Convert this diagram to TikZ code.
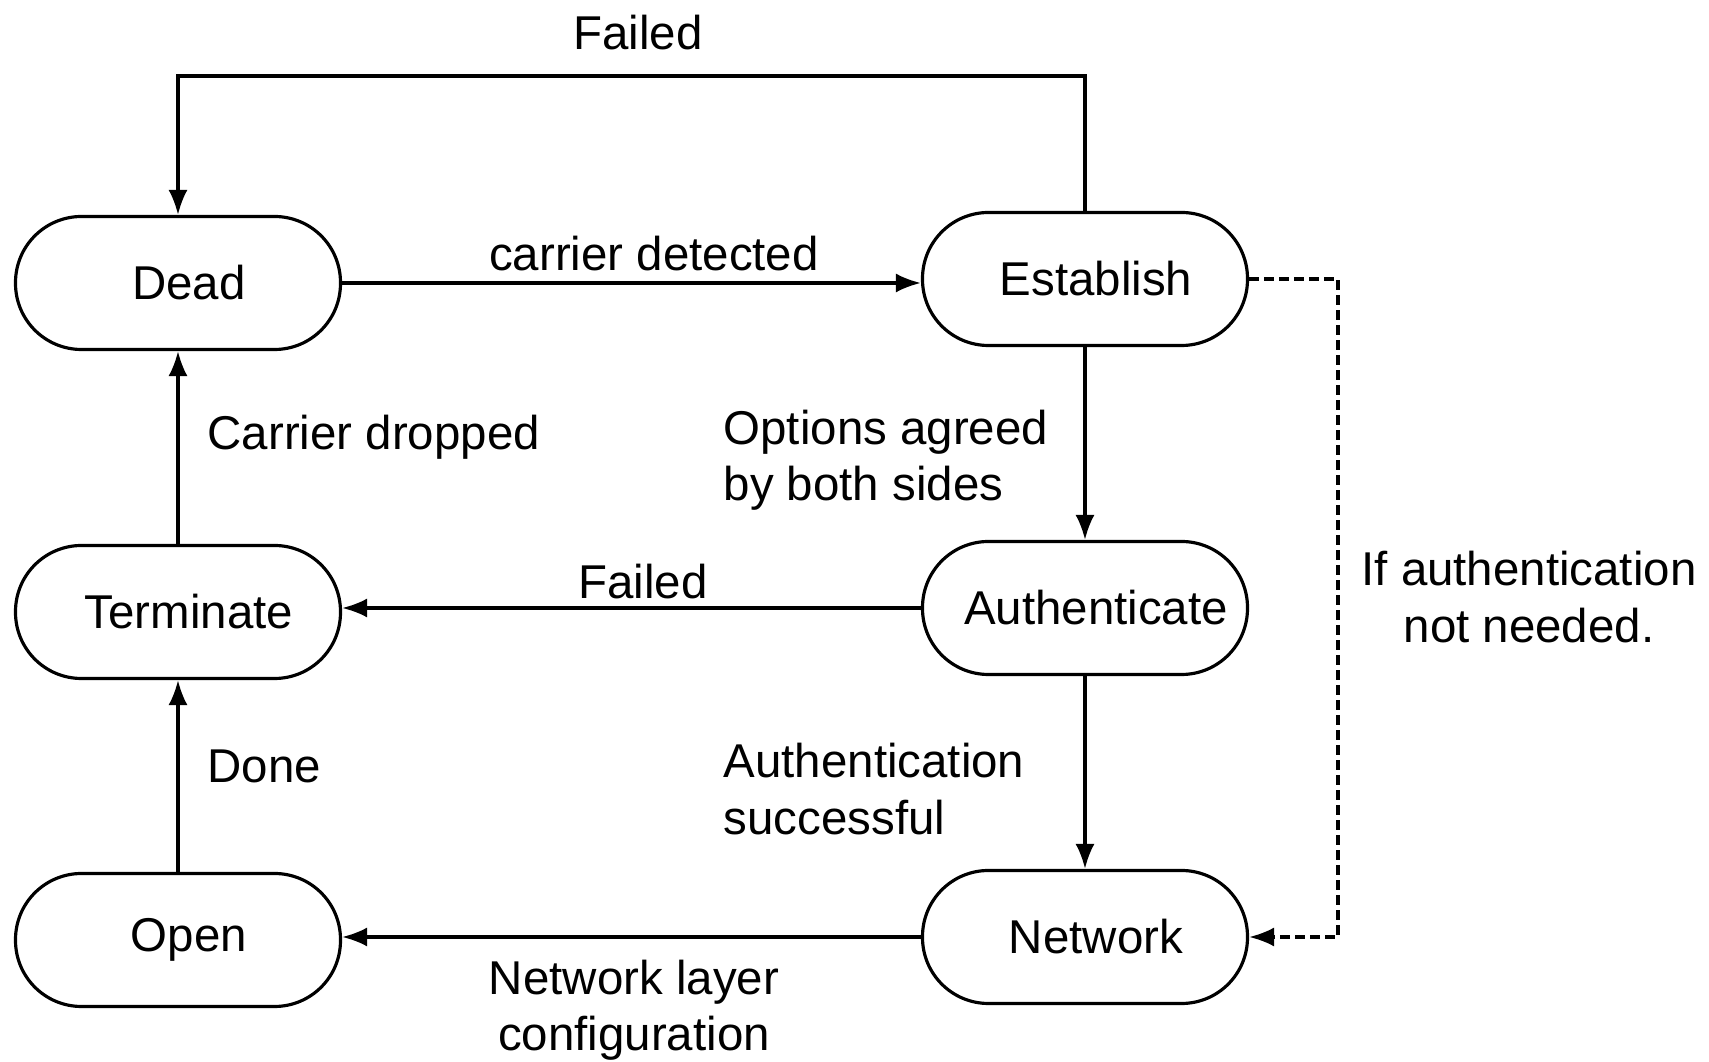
\documentclass[tikz,border=0pt]{standalone}
\usepackage{fontspec}
\setmainfont{Liberation Sans}
\usetikzlibrary{arrows.meta}

\begin{document}
\begin{tikzpicture}[x=0.1mm, y=-0.1mm,
        state/.style={draw, line width=0.9pt, rectangle, rounded corners=6.6mm,
            minimum width=32.5mm, minimum height=13.3mm, inner sep=0pt,
            font=\fontsize{13.5}{16}\selectfont,
            execute at begin node={\hspace*{2.2mm}}},
        lbl/.style={inner sep=0pt, font=\fontsize{13.5}{16}\selectfont},
        arr/.style={line width=0.9pt, -{Latex[length=2.5mm, width=1.9mm]}},
        dasharr/.style={arr, dash pattern=on 1mm off 0.5mm}
    ]
    \useasboundingbox (0,0) rectangle (1709,1062);

    \def\xl{178}
    \def\xr{1085}

    % states
    \node[state] (dead)         at (\xl, 283) {Dead};
    \node[state] (establish)    at (\xr, 279) {Establish};
    \node[state] (terminate)    at (\xl, 612) {Terminate};
    \node[state] (authenticate) at (\xr, 608) {Authenticate};
    \node[state] (open)         at (\xl, 940) {Open};
    \node[state] (network)      at (\xr, 937) {Network};

    \coordinate (topline) at (0, 76);
    \coordinate (dashcorner) at (1338, 0);

    % transitions
    \draw[arr] (establish.north) -- (establish.north |- topline) -| (dead.north);
    \node[lbl] (failtop) at (638, 33) {Failed};

    \draw[arr] (dead.east) -- (establish.west |- dead.east);
    \node[lbl] (carrier) at (654, 254) {carrier detected};

    \draw[arr] (terminate.north) -- (dead.south);
    \node[lbl, anchor=west] (dropped) at (207, 437) {Carrier dropped};

    \draw[arr] (establish.south) -- (authenticate.north);
    \node[lbl, anchor=west, align=left] (agreed) at (723, 460) {Options agreed\\by both sides};

    \draw[arr] (authenticate.west) -- (terminate.east |- authenticate.west);
    \node[lbl] (failmid) at (643, 582) {Failed};

    \draw[arr] (open.north) -- (terminate.south);
    \node[lbl, anchor=west] (done) at (207, 766) {Done};

    \draw[arr] (authenticate.south) -- (network.north);
    \node[lbl, anchor=west, align=left] (success) at (723, 789) {Authentication\\successful};

    \draw[arr] (network.west) -- (open.east |- network.west);
    \node[lbl, align=center] (netcfg) at (634, 1010) {Network layer\\configuration};

    \draw[dasharr] (establish.east) -- (dashcorner |- establish.east)
        -- (dashcorner |- network.east) -- (network.east);
    \node[lbl, align=center] (noauth) at (1529, 597) {If authentication\\not needed.};
\end{tikzpicture}
\end{document}
